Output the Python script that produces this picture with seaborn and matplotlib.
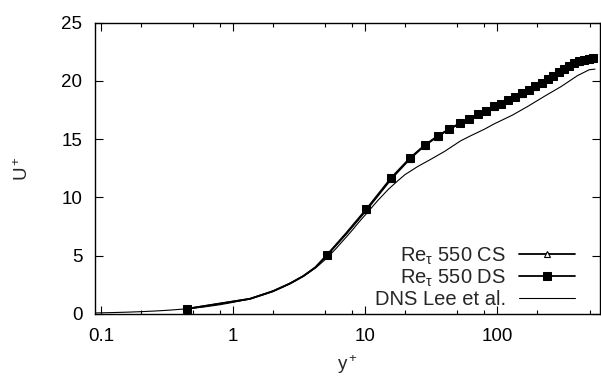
import matplotlib
matplotlib.use("Agg")
import matplotlib.pyplot as plt
import seaborn as sns
import pandas as pd
from matplotlib.ticker import LogLocator, FixedLocator, NullFormatter, FuncFormatter

# ---- data ----
yplus_les = [0.45, 1.34, 2.0, 2.7, 3.4, 4.2, 5.13, 7.2, 10.2, 15.8, 21.9, 28.2, 35.3,
             43.0, 52.5, 61.1, 71.5, 82.2, 94.6, 107, 121, 136, 154, 173, 194, 217,
             241, 265, 292, 322, 352, 384, 419, 457, 499, 528]
u_ds = [0.45, 1.3, 1.95, 2.62, 3.25, 4.0, 5.06, 6.95, 8.99, 11.70, 13.39, 14.48, 15.25,
        15.85, 16.37, 16.74, 17.15, 17.45, 17.80, 18.05, 18.35, 18.62, 18.92, 19.20,
        19.52, 19.83, 20.14, 20.45, 20.74, 21.02, 21.28, 21.50, 21.66, 21.80, 21.88,
        21.92]
u_cs = [0.45, 1.3, 1.95, 2.62, 3.25, 4.0, 5.02, 6.88, 8.90, 11.60, 13.32, 14.44, 15.22,
        15.83, 16.35, 16.73, 17.14, 17.44, 17.79, 18.04, 18.34, 18.61, 18.91, 19.19,
        19.51, 19.82, 20.13, 20.44, 20.73, 21.01, 21.27, 21.49, 21.65, 21.79, 21.87,
        21.91]

yplus_dns = [0.09, 0.12, 0.16, 0.2, 0.26, 0.33, 0.45, 0.6, 0.8, 1.0, 1.34, 1.8, 2.4,
             3.0, 3.6, 4.3, 5.13, 6.0, 7.0, 8.0, 9.0, 10.2, 12.5, 15.0, 17.4, 20.0,
             25.0, 31.2, 40.0, 52.8, 62.8, 80.0, 94.6, 130, 170, 230, 304, 406, 498, 550]
u_dns = [0.09, 0.12, 0.16, 0.2, 0.26, 0.33, 0.45, 0.6, 0.8, 1.0, 1.3, 1.76, 2.33,
         2.9, 3.42, 4.03, 4.8, 5.6, 6.45, 7.2, 7.9, 8.6, 9.75, 10.7, 11.36, 11.95,
         12.65, 13.25, 13.95, 14.85, 15.28, 15.85, 16.3, 17.05, 17.8, 18.7, 19.5,
         20.45, 20.95, 21.0]

labels = ["Re$_{\\mathregular{\\tau}}$ 550 CS", "Re$_{\\mathregular{\\tau}}$ 550 DS", "DNS Lee et al."]
x_ticks = [0.1, 1, 10, 100]
y_ticks = [0, 5, 10, 15, 20, 25]

# indices of the LES samples that carry a marker
marker_idx = [0] + [i for i in range(6, len(yplus_les)) if i != 7]

sns.set_style("ticks")
plt.rcParams['font.family'] = ['Liberation Sans', 'DejaVu Sans']
plt.rcParams['mathtext.fontset'] = 'custom'
plt.rcParams['mathtext.rm'] = 'Liberation Sans'
plt.rcParams['mathtext.it'] = 'Liberation Sans'
plt.rcParams['mathtext.bf'] = 'Liberation Sans:bold'

fig = plt.figure(figsize=(6.01, 3.81), dpi=100)
ax = fig.add_axes([95 / 601, (381 - 314) / 381, 505 / 601, (314 - 22.5) / 381])

df_les = pd.DataFrame({"yplus": yplus_les, "cs": u_cs, "ds": u_ds})
df_dns = pd.DataFrame({"yplus": yplus_dns, "u": u_dns})

sns.lineplot(data=df_les, x="yplus", y="cs", ax=ax, sort=False, estimator=None,
             color="black", lw=1.3, marker="^", markersize=5, markerfacecolor="white",
             markeredgecolor="black", markeredgewidth=0.8, markevery=marker_idx,
             label=labels[0])
sns.lineplot(data=df_les, x="yplus", y="ds", ax=ax, sort=False, estimator=None,
             color="black", lw=1.3, marker="s", markersize=5.2, markerfacecolor="black",
             markeredgecolor="black", markevery=marker_idx, label=labels[1])
sns.lineplot(data=df_dns, x="yplus", y="u", ax=ax, sort=False, estimator=None,
             color="black", lw=0.8, label=labels[2])

ax.set_xscale("log")
ax.set_xlim(0.09, 600)
ax.set_ylim(0, 25)
ax.xaxis.set_major_locator(FixedLocator(x_ticks))
ax.xaxis.set_major_formatter(FuncFormatter(lambda v, p: f"{v:g}"))
ax.xaxis.set_minor_locator(LogLocator(base=10, subs=[2, 5, 8]))
ax.xaxis.set_minor_formatter(NullFormatter())
ax.yaxis.set_major_locator(FixedLocator(y_ticks))

for s in ax.spines.values():
    s.set_visible(True)
    s.set_linewidth(1.0)
    s.set_color("black")
ax.tick_params(which="both", direction="in", top=True, right=True, color="black",
               labelsize=13.5, labelcolor="black")
ax.tick_params(which="major", length=6, width=0.8)
ax.tick_params(which="minor", length=3, width=0.8)
ax.tick_params(axis="x", pad=10)
ax.tick_params(axis="y", pad=9)

ax.set_xlabel("y$^+$", fontsize=13.5, labelpad=6)
ax.set_ylabel("U$^+$", fontsize=13.5, labelpad=21)

ax.legend(loc="lower right", bbox_to_anchor=(0.9624, -0.003), frameon=False,
          markerfirst=False, fontsize=14.5, handlelength=2.78, handletextpad=0.65,
          labelspacing=0.05, borderaxespad=0.0, borderpad=0.3)

fig.savefig("out.png", dpi=100)
